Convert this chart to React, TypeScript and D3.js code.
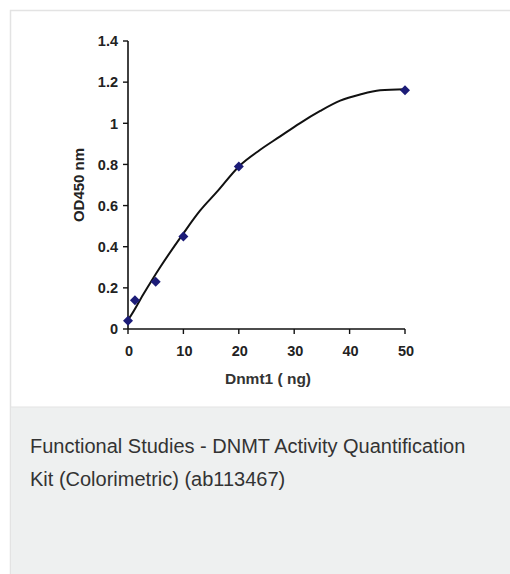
import React from "react";
import * as d3 from "d3";

const pointX = [0, 1.25, 5, 10, 20, 50];
const pointY = [0.04, 0.14, 0.23, 0.45, 0.79, 1.16];
const curveX = [0, 0.4, 2.8, 5.8, 10, 13, 16, 20.2, 23.8, 27.4, 31, 34.7, 38.3, 41.9, 45.5, 50];
const curveY = [0.045, 0.06, 0.17, 0.3, 0.465, 0.575, 0.665, 0.795, 0.87, 0.935, 1.0, 1.06, 1.11, 1.14, 1.16, 1.165];
const xTicks = [0, 10, 20, 30, 40, 50];
const yTicks = [0, 0.2, 0.4, 0.6, 0.8, 1, 1.2, 1.4];
const xTitle = "Dnmt1 ( ng)";
const yTitle = "OD450 nm";
const captionLines = [
  "Functional Studies - DNMT Activity Quantification",
  "Kit (Colorimetric) (ab113467)",
];

const wideDiamond: d3.SymbolType = {
  draw(context, size) {
    const r = Math.sqrt(size) / 2;
    context.moveTo(0, -r);
    context.lineTo(r, 0);
    context.lineTo(0, r);
    context.lineTo(-r, 0);
    context.closePath();
  },
};

export default function App() {
  const x = d3.scaleLinear().domain([0, 50]).range([128, 405]);
  const y = d3.scaleLinear().domain([0, 1.4]).range([329, 41]);
  const line = d3
    .line<number>()
    .x((_, i) => x(curveX[i]))
    .y((_, i) => y(curveY[i]))
    .curve(d3.curveMonotoneX);
  const diamond = d3.symbol().type(wideDiamond).size(100)();
  const font = "Arial, 'Liberation Sans', Helvetica, sans-serif";
  return (
    <svg
      width={510}
      height={574}
      style={{ position: "absolute", left: 0, top: 0 }}
      fontFamily={font}
    >
      <rect x={0} y={0} width={510} height={574} fill="#ffffff" />
      <rect x={10.5} y={10.5} width={520} height={600} fill="#ffffff" stroke="#e3e3e3" strokeWidth={1.5} />
      <rect x={11} y={407} width={520} height={200} fill="#eef0f0" />
      <line x1={11} x2={520} y1={407} y2={407} stroke="#e3e3e3" strokeWidth={1} />

      {/* axes */}
      <line x1={x(0)} x2={x(0)} y1={y(1.4)} y2={y(0)} stroke="#111" strokeWidth={1.6} />
      <line x1={x(0)} x2={x(50)} y1={y(0)} y2={y(0)} stroke="#111" strokeWidth={1.6} />
      {yTicks.map((t) => (
        <g key={"y" + t}>
          <line x1={x(0) - 5} x2={x(0)} y1={y(t)} y2={y(t)} stroke="#111" strokeWidth={1.4} />
          <text
            x={x(0) - 10}
            y={y(t)}
            dy="0.36em"
            textAnchor="end"
            fontSize={14.5}
            fontWeight="bold"
            fill="#222"
          >
            {String(t)}
          </text>
        </g>
      ))}
      {xTicks.map((t) => (
        <g key={"x" + t}>
          <line x1={x(t)} x2={x(t)} y1={y(0)} y2={y(0) + 5} stroke="#111" strokeWidth={1.4} />
          <text
            x={x(t) + 1}
            y={351}
            dy="0.36em"
            textAnchor="middle"
            fontSize={14.5}
            fontWeight="bold"
            fill="#222"
          >
            {String(t)}
          </text>
        </g>
      ))}
      <text x={268} y={378} dy="0.36em" textAnchor="middle" fontSize={15.5} fontWeight="bold" fill="#333">
        {xTitle}
      </text>
      <text
        transform={`translate(79,185) rotate(-90)`}
        dy="0.36em"
        textAnchor="middle"
        fontSize={15}
        fontWeight={600}
        fill="#222"
      >
        {yTitle}
      </text>

      {/* trendline */}
      <path d={line(curveX) || ""} fill="none" stroke="#111" strokeWidth={2} />
      {pointX.map((px, i) => (
        <path key={"p" + i} d={diamond || ""} transform={`translate(${x(px)},${y(pointY[i])})`} fill="#1c1c78" />
      ))}

      {captionLines.map((l, i) => (
        <text key={"c" + i} x={30} y={453 + i * 33} fontSize={20} fill="#333">
          {l}
        </text>
      ))}
    </svg>
  );
}
